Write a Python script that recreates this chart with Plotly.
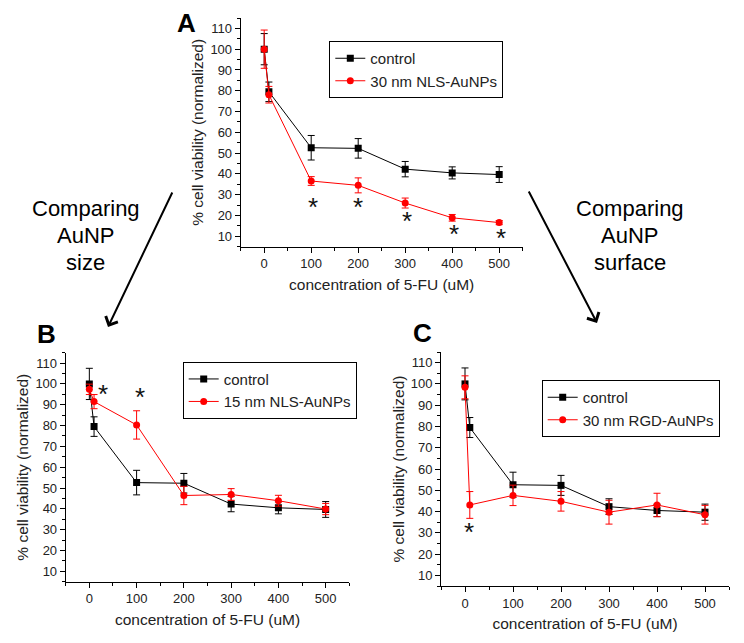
import plotly.graph_objects as go

# ---------------- data ----------------
conc = [0, 10, 100, 200, 300, 400, 500]

control = [100, 79.5, 52.6, 52.3, 42.3, 40.5, 39.7]
control_err = [7.5, 4.7, 5.9, 4.7, 3.7, 2.9, 3.8]

nls30 = [100, 78.1, 36.6, 34.5, 26.0, 18.9, 16.6]
nls30_err = [9.2, 4.0, 2.1, 3.6, 2.4, 1.6, 1.0]

nls15 = [97.4, 91.5, 80.3, 46.4, 46.9, 43.9, 39.9]
nls15_err = [2.5, 3.4, 6.8, 4.4, 2.8, 2.6, 2.7]

rgd30 = [98.4, 43.1, 47.6, 44.8, 39.7, 43.1, 38.5]
rgd30_err = [5.4, 6.3, 4.8, 4.6, 5.6, 5.5, 4.4]

stars_a_x = [104, 200, 303, 404, 503]
stars_a_y = [25.6, 25.6, 18.6, 12.4, 10.8]
stars_b_x = [29, 108]
stars_b_y = [96.7, 95.0]
stars_c_x = [8]
stars_c_y = [31.8]

panel_names = ["30 nm NLS-AuNPs", "15 nm NLS-AuNPs", "30 nm RGD-AuNPs"]
x_title = "concentration of 5-FU (uM)"
y_title = "% cell viability (normalized)"

# ---------------- layout helpers ----------------
W, H = 744, 643
FONT = "Liberation Sans, Arial, sans-serif"
RED = "#ff0000"
TXT = "#222"


def px(xp):
    return xp / W


def py(yp):
    return 1 - yp / H


def xaxis_cfg(x0, x1, anchor):
    return dict(
        domain=[px(x0), px(x1)], anchor=anchor, range=[-50, 550],
        tick0=0, dtick=100, ticks="outside", ticklen=5, tickwidth=1,
        tickcolor="black", showline=True, linecolor="black", linewidth=1,
        showgrid=False, zeroline=False,
        minor=dict(tick0=0, dtick=50, ticks="outside", ticklen=3,
                   tickcolor="black", tickwidth=1, showgrid=False),
        tickfont=dict(size=13, color=TXT, family=FONT),
        title=dict(text=x_title, font=dict(size=15.5, color=TXT, family=FONT),
                   standoff=8),
    )


def yaxis_cfg(y0, y1, anchor):
    return dict(
        domain=[py(y1), py(y0)], anchor=anchor, range=[5, 115],
        tick0=10, dtick=10, ticks="outside", ticklen=5, tickwidth=1,
        tickcolor="black", showline=True, linecolor="black", linewidth=1,
        showgrid=False, zeroline=False,
        minor=dict(tick0=5, dtick=5, ticks="outside", ticklen=3,
                   tickcolor="black", tickwidth=1, showgrid=False),
        tickfont=dict(size=13, color=TXT, family=FONT),
        title=dict(text=y_title, font=dict(size=15.5, color=TXT, family=FONT),
                   standoff=2),
    )


fig = go.Figure()

panels = [
    ("x", "y", "legend", nls30, nls30_err, panel_names[0]),
    ("x2", "y2", "legend2", nls15, nls15_err, panel_names[1]),
    ("x3", "y3", "legend3", rgd30, rgd30_err, panel_names[2]),
]

for xa, ya, lg, vals, errs, nm in panels:
    fig.add_trace(go.Scatter(
        x=conc, y=control, name="control", mode="lines+markers",
        xaxis=xa, yaxis=ya, legend=lg,
        line=dict(color="black", width=1),
        marker=dict(symbol="square", size=7, color="black"),
        error_y=dict(type="data", array=control_err, color="black",
                     thickness=1, width=3.5),
    ))
    fig.add_trace(go.Scatter(
        x=conc, y=vals, name=nm, mode="lines+markers",
        xaxis=xa, yaxis=ya, legend=lg,
        line=dict(color=RED, width=1),
        marker=dict(symbol="circle", size=7, color=RED),
        error_y=dict(type="data", array=errs, color=RED,
                     thickness=1, width=3.5),
    ))

annotations = []
for xs, ys, xr, yr in [(stars_a_x, stars_a_y, "x", "y"),
                       (stars_b_x, stars_b_y, "x2", "y2"),
                       (stars_c_x, stars_c_y, "x3", "y3")]:
    for sx, sy in zip(xs, ys):
        annotations.append(dict(
            x=sx, y=sy, xref=xr, yref=yr, text="*", showarrow=False,
            font=dict(size=26, color="#111", family=FONT),
            xanchor="center", yanchor="middle", yshift=-3,
        ))

# panel letters
for letter, cx, cy in [("A", 186.7, 23.3), ("B", 46.7, 334.0), ("C", 422.5, 332.5)]:
    annotations.append(dict(
        x=px(cx), y=py(cy), xref="paper", yref="paper",
        text="<b>%s</b>" % letter, showarrow=False,
        font=dict(size=26, color="black", family=FONT),
        xanchor="center", yanchor="middle",
    ))

# side texts
for lines, cx in [(["Comparing", "AuNP", "size"], 85.5),
                  (["Comparing", "AuNP", "surface"], 629.5)]:
    for t, cy in zip(lines, [209.0, 235.5, 262.0]):
        annotations.append(dict(
            x=px(cx), y=py(cy), xref="paper", yref="paper", text=t,
            showarrow=False, font=dict(size=22, color="black", family=FONT),
            xanchor="center", yanchor="middle",
        ))

# arrows
for (sx, sy), (tx, ty) in [((173, 191), (108, 327)), ((528, 190), (597, 323))]:
    annotations.append(dict(
        x=px(tx), y=py(ty), xref="paper", yref="paper", text="",
        showarrow=True, ax=sx - tx, ay=sy - ty, axref="pixel", ayref="pixel",
        arrowhead=4, arrowsize=1.3, arrowwidth=2, arrowcolor="black",
        standoff=0,
    ))


def legend_cfg(lx, ly):
    return dict(
        x=px(lx), y=py(ly), xref="paper", yref="paper",
        xanchor="left", yanchor="top", bgcolor="white",
        bordercolor="black", borderwidth=1, tracegroupgap=0,
        font=dict(size=15, color=TXT, family=FONT), itemwidth=30,
    )


fig.update_layout(
    width=W, height=H, margin=dict(l=0, r=0, t=0, b=0),
    paper_bgcolor="white", plot_bgcolor="white",
    font=dict(family=FONT, color=TXT),
    showlegend=True,
    xaxis=xaxis_cfg(240.7, 522.7, "y"),
    yaxis=yaxis_cfg(18.0, 246.7, "x"),
    xaxis2=xaxis_cfg(65.7, 349.3, "y2"),
    yaxis2=yaxis_cfg(352.7, 581.7, "x2"),
    xaxis3=xaxis_cfg(441.0, 729.0, "y3"),
    yaxis3=yaxis_cfg(352.0, 586.0, "x3"),
    legend=legend_cfg(329.3, 41.0),
    legend2=legend_cfg(182.7, 361.7),
    legend3=legend_cfg(541.7, 380.0),
    annotations=annotations,
)

fig.write_html("out.html",
               config={"displayModeBar": False},
               post_script="document.body.style.margin='0';"
                           "document.body.style.padding='0';")
